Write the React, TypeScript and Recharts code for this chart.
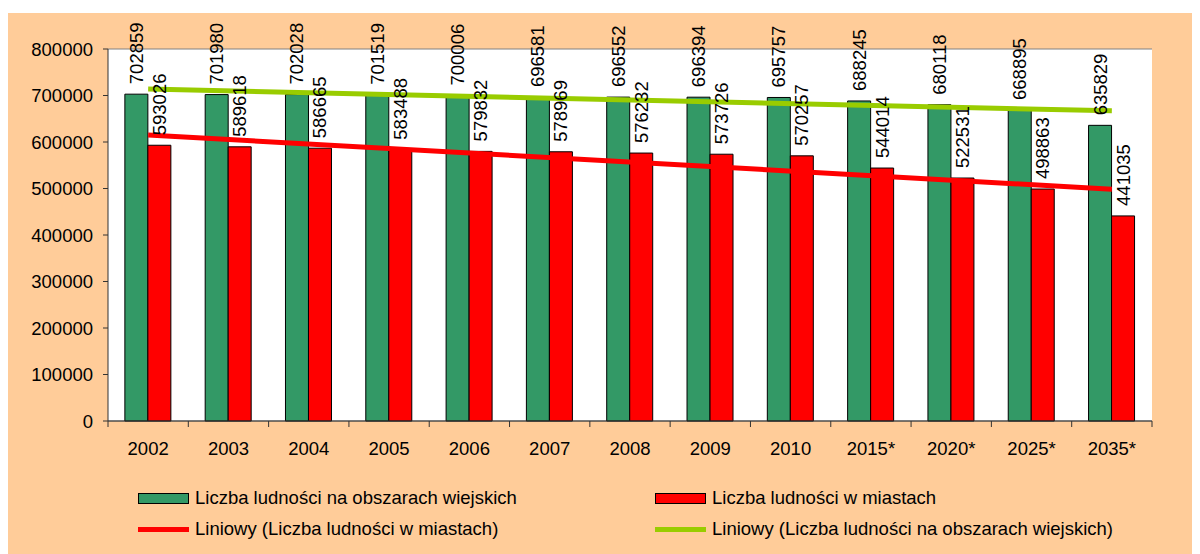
import {
  ComposedChart, Bar, Line, XAxis, YAxis, CartesianGrid, LabelList, Legend,
} from 'recharts';

const YEARS = ['2002', '2003', '2004', '2005', '2006', '2007', '2008', '2009', '2010', '2015*', '2020*', '2025*', '2035*'];
const RURAL = [702859, 701980, 702028, 701519, 700006, 696581, 696552, 696394, 695757, 688245, 680118, 668895, 635829];
const URBAN = [593026, 589618, 586665, 583488, 579832, 578969, 576232, 573726, 570257, 544014, 522531, 498863, 441035];
// trend line end points (straight line, gaps joined)
const URBAN_TREND = [615000, null, null, null, null, null, null, null, null, null, null, null, 498600];
const RURAL_TREND = [714000, null, null, null, null, null, null, null, null, null, null, null, 667000];
const Y_TICKS = [0, 100000, 200000, 300000, 400000, 500000, 600000, 700000, 800000];

const W = 1192;
const H = 541;
const LEGEND_H = 60;
const MARGIN = { top: 36, right: 48, bottom: 93 - LEGEND_H, left: 0 };
const Y_W = 100;
const BAND = (W - MARGIN.left - MARGIN.right - Y_W) / YEARS.length;
const FONT = '"Liberation Sans", Arial, sans-serif';
const FS = 18.5;

const data = YEARS.map((y, i) => ({
  year: y,
  rural: RURAL[i],
  urban: URBAN[i],
  urbanTrend: URBAN_TREND[i],
  ruralTrend: RURAL_TREND[i],
}));

const VLabel = (props: any) => {
  const { x, y, width, value } = props;
  const cx = x + width / 2;
  const cy = y - 10;
  return (
    <text
      x={cx}
      y={cy}
      transform={`rotate(-90 ${cx} ${cy})`}
      textAnchor="start"
      dominantBaseline="central"
      fontSize={FS}
      fontFamily={FONT}
      fill="#000"
    >
      {value}
    </text>
  );
};

const XTick = (props: any) => {
  const { x, y, payload, index } = props;
  const left = x - BAND / 2;
  return (
    <g>
      <line x1={left} y1={y - 8} x2={left} y2={y - 2} stroke="#333" />
      {index === YEARS.length - 1 && (
        <line x1={x + BAND / 2} y1={y - 8} x2={x + BAND / 2} y2={y - 2} stroke="#333" />
      )}
      <text x={x} y={y + 26} textAnchor="middle" fontSize={FS} fontFamily={FONT} fill="#000">
        {payload.value}
      </text>
    </g>
  );
};

const LEGEND_ITEMS = [
  { label: 'Liczba ludności na obszarach wiejskich', color: '#339966', kind: 'box', col: 0, row: 0 },
  { label: 'Liczba ludności w miastach', color: '#FF0000', kind: 'box', col: 1, row: 0 },
  { label: 'Liniowy (Liczba ludności w miastach)', color: '#FF0000', kind: 'line', col: 0, row: 1 },
  { label: 'Liniowy (Liczba ludności na obszarach wiejskich)', color: '#99CC00', kind: 'line', col: 1, row: 1 },
];

const renderLegend = () => (
  <div style={{ position: 'relative', width: W, height: LEGEND_H, fontFamily: FONT, fontSize: FS }}>
    {LEGEND_ITEMS.map(it => (
      <div
        key={it.label}
        style={{
          position: 'absolute',
          left: it.col === 0 ? 130 : 647,
          top: it.row * 31,
          height: 22,
          display: 'flex',
          alignItems: 'center',
          whiteSpace: 'nowrap',
          color: '#000',
        }}
      >
        {it.kind === 'box' ? (
          <span style={{ width: 51, height: 11, background: it.color, border: '1px solid #000', boxSizing: 'border-box' }} />
        ) : (
          <span style={{ width: 51, height: 5, background: it.color }} />
        )}
        <span style={{ marginLeft: 6 }}>{it.label}</span>
      </div>
    ))}
  </div>
);

export default function App() {
  return (
    <div style={{ marginTop: 5, width: W, height: H, background: '#FFCC99' }}>
      <ComposedChart
        width={W}
        height={H}
        data={data}
        margin={MARGIN}
        barCategoryGap="21%"
        barGap={0}
      >
        <CartesianGrid vertical={false} stroke="#808080" fill="#fff" />
        <XAxis
          dataKey="year"
          axisLine={{ stroke: '#333' }}
          tickLine={false}
          tick={<XTick />}
          interval={0}
          height={40}
        />
        <YAxis
          yAxisId="l"
          domain={[0, 800000]}
          ticks={Y_TICKS}
          width={Y_W}
          axisLine={{ stroke: '#333' }}
          tickLine={{ stroke: '#333' }}
          tickSize={5}
          tickMargin={10}
          tick={{ fontSize: FS, fontFamily: FONT, fill: '#000' }}
          interval={0}
        />
        <YAxis yAxisId="r" orientation="right" domain={[0, 800000]} width={0} tick={false} tickLine={false} axisLine={{ stroke: '#808080' }} />
        <Bar yAxisId="l" dataKey="rural" fill="#339966" stroke="#000" strokeWidth={1} isAnimationActive={false}>
          <LabelList dataKey="rural" content={<VLabel />} />
        </Bar>
        <Bar yAxisId="l" dataKey="urban" fill="#FF0000" stroke="#000" strokeWidth={1} isAnimationActive={false}>
          <LabelList dataKey="urban" content={<VLabel />} />
        </Bar>
        <Line yAxisId="l" dataKey="urbanTrend" stroke="#FF0000" strokeWidth={5} dot={false} connectNulls isAnimationActive={false} />
        <Line yAxisId="l" dataKey="ruralTrend" stroke="#99CC00" strokeWidth={5} dot={false} connectNulls isAnimationActive={false} />
        <Legend content={renderLegend} wrapperStyle={{ left: 0, top: 474, width: W, height: LEGEND_H }} />
      </ComposedChart>
    </div>
  );
}
